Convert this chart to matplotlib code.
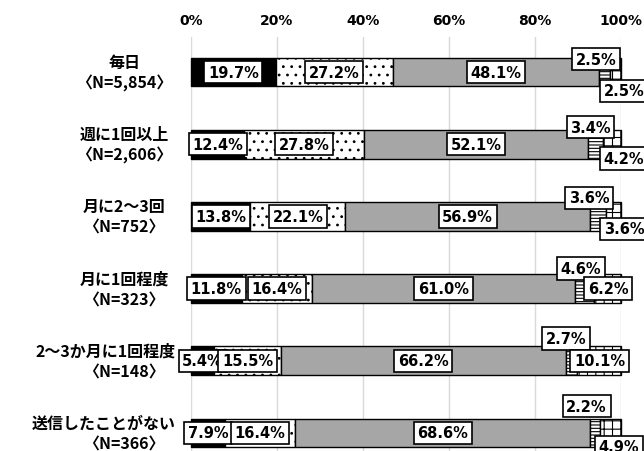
import matplotlib
matplotlib.use("Agg")
import matplotlib.pyplot as plt
from matplotlib.transforms import blended_transform_factory

plt.rcParams['font.family'] = ['Noto Sans CJK JP', 'DejaVu Sans']
plt.rcParams['hatch.linewidth'] = 0.8

groups = ["毎日", "週に1回以上", "月に2～3回", "月に1回程度",
          "2～3か月に1回程度", "送信したことがない"]
sizes = ["〈N=5,854〉", "〈N=2,606〉", "〈N=752〉", "〈N=323〉", "〈N=148〉", "〈N=366〉"]
s1 = [19.7, 12.4, 13.8, 11.8, 5.4, 7.9]
s2 = [27.2, 27.8, 22.1, 16.4, 15.5, 16.4]
s3 = [48.1, 52.1, 56.9, 61.0, 66.2, 68.6]
s4 = [2.5, 3.4, 3.6, 4.6, 2.7, 2.2]
s5 = [2.5, 4.2, 3.6, 6.2, 10.1, 4.9]
ticks = [0, 20, 40, 60, 80, 100]

# label offsets for the two small segments (moved by hand in the original)
up_dx = [-2.0, -1.1, -2.0, -0.8, -1.15, -2.0]
up_dy = [-0.18, -0.235, -0.256, -0.277, -0.31, -0.37]
lo_dx = [1.95, 2.8, 2.5, 0.1, 0.15, 1.95]
lo_dy = [0.26, 0.2, 0.17, 0.0, 0.0, 0.19]

series = [s1, s2, s3, s4, s5]
faces = ['black', 'white', '#a6a6a6', 'white', 'white']
hatches = [None, '..', None, '-----', '++']

W, H = 644, 452
fig = plt.figure(figsize=(W / 100, H / 100), dpi=100)
ax = fig.add_axes([191 / W, 0, 430 / W, 414 / H])

y = list(range(len(groups)))
left = [0.0] * len(groups)
for vals, fc, h in zip(series, faces, hatches):
    ax.barh(y, vals, left=left, height=0.4, color=fc, edgecolor='black',
            linewidth=1, hatch=h, clip_on=False, zorder=2)
    left = [l + v for l, v in zip(left, vals)]

box = dict(boxstyle='square,pad=0.25', fc='white', ec='black', lw=1.2)
lab = dict(ha='center', va='center', fontsize=10.5, fontweight='bold',
           family='DejaVu Sans', bbox=box, clip_on=False, zorder=5)

for i in y:
    start = 0.0
    for k, vals in enumerate(series):
        c = start + vals[i] / 2
        if k < 3:
            ax.text(c, i, f"{vals[i]:.1f}%", **lab)
        elif k == 3:
            ax.text(c + up_dx[i], i + up_dy[i], f"{vals[i]:.1f}%", **lab)
        else:
            ax.text(c + lo_dx[i], i + lo_dy[i], f"{vals[i]:.1f}%", **lab)
        start += vals[i]

ax.set_xlim(0, 100)
ax.set_ylim(5.25, -0.485)
ax.xaxis.tick_top()
ax.set_xticks(ticks)
ax.set_xticklabels([f"{t}%" for t in ticks], fontsize=10, fontweight='bold',
                   family='DejaVu Sans')
ax.tick_params(axis='x', length=0, pad=7)
ax.set_yticks([])
ax.grid(axis='x', color='#d9d9d9', lw=1)
ax.set_axisbelow(True)
for sp in ax.spines.values():
    sp.set_visible(False)

trans = blended_transform_factory(ax.transAxes, ax.transData)
first_lines = []
for i, (g, n) in enumerate(zip(groups, sizes)):
    t = ax.text(-0.156, i - 0.14, g, transform=trans, ha='center', va='center',
                fontsize=11.5, fontweight='bold')
    first_lines.append(t)
    ax.text(-0.156, i + 0.145, n, transform=trans, ha='center', va='center',
            fontsize=11.5, fontweight='bold')

# long first lines get pushed against the right edge, like the original
fig.canvas.draw()
for t in first_lines:
    if t.get_window_extent().x1 > 176:
        t.set_ha('right')
        t.set_x(-0.035)

fig.savefig('out.png', dpi=100)
